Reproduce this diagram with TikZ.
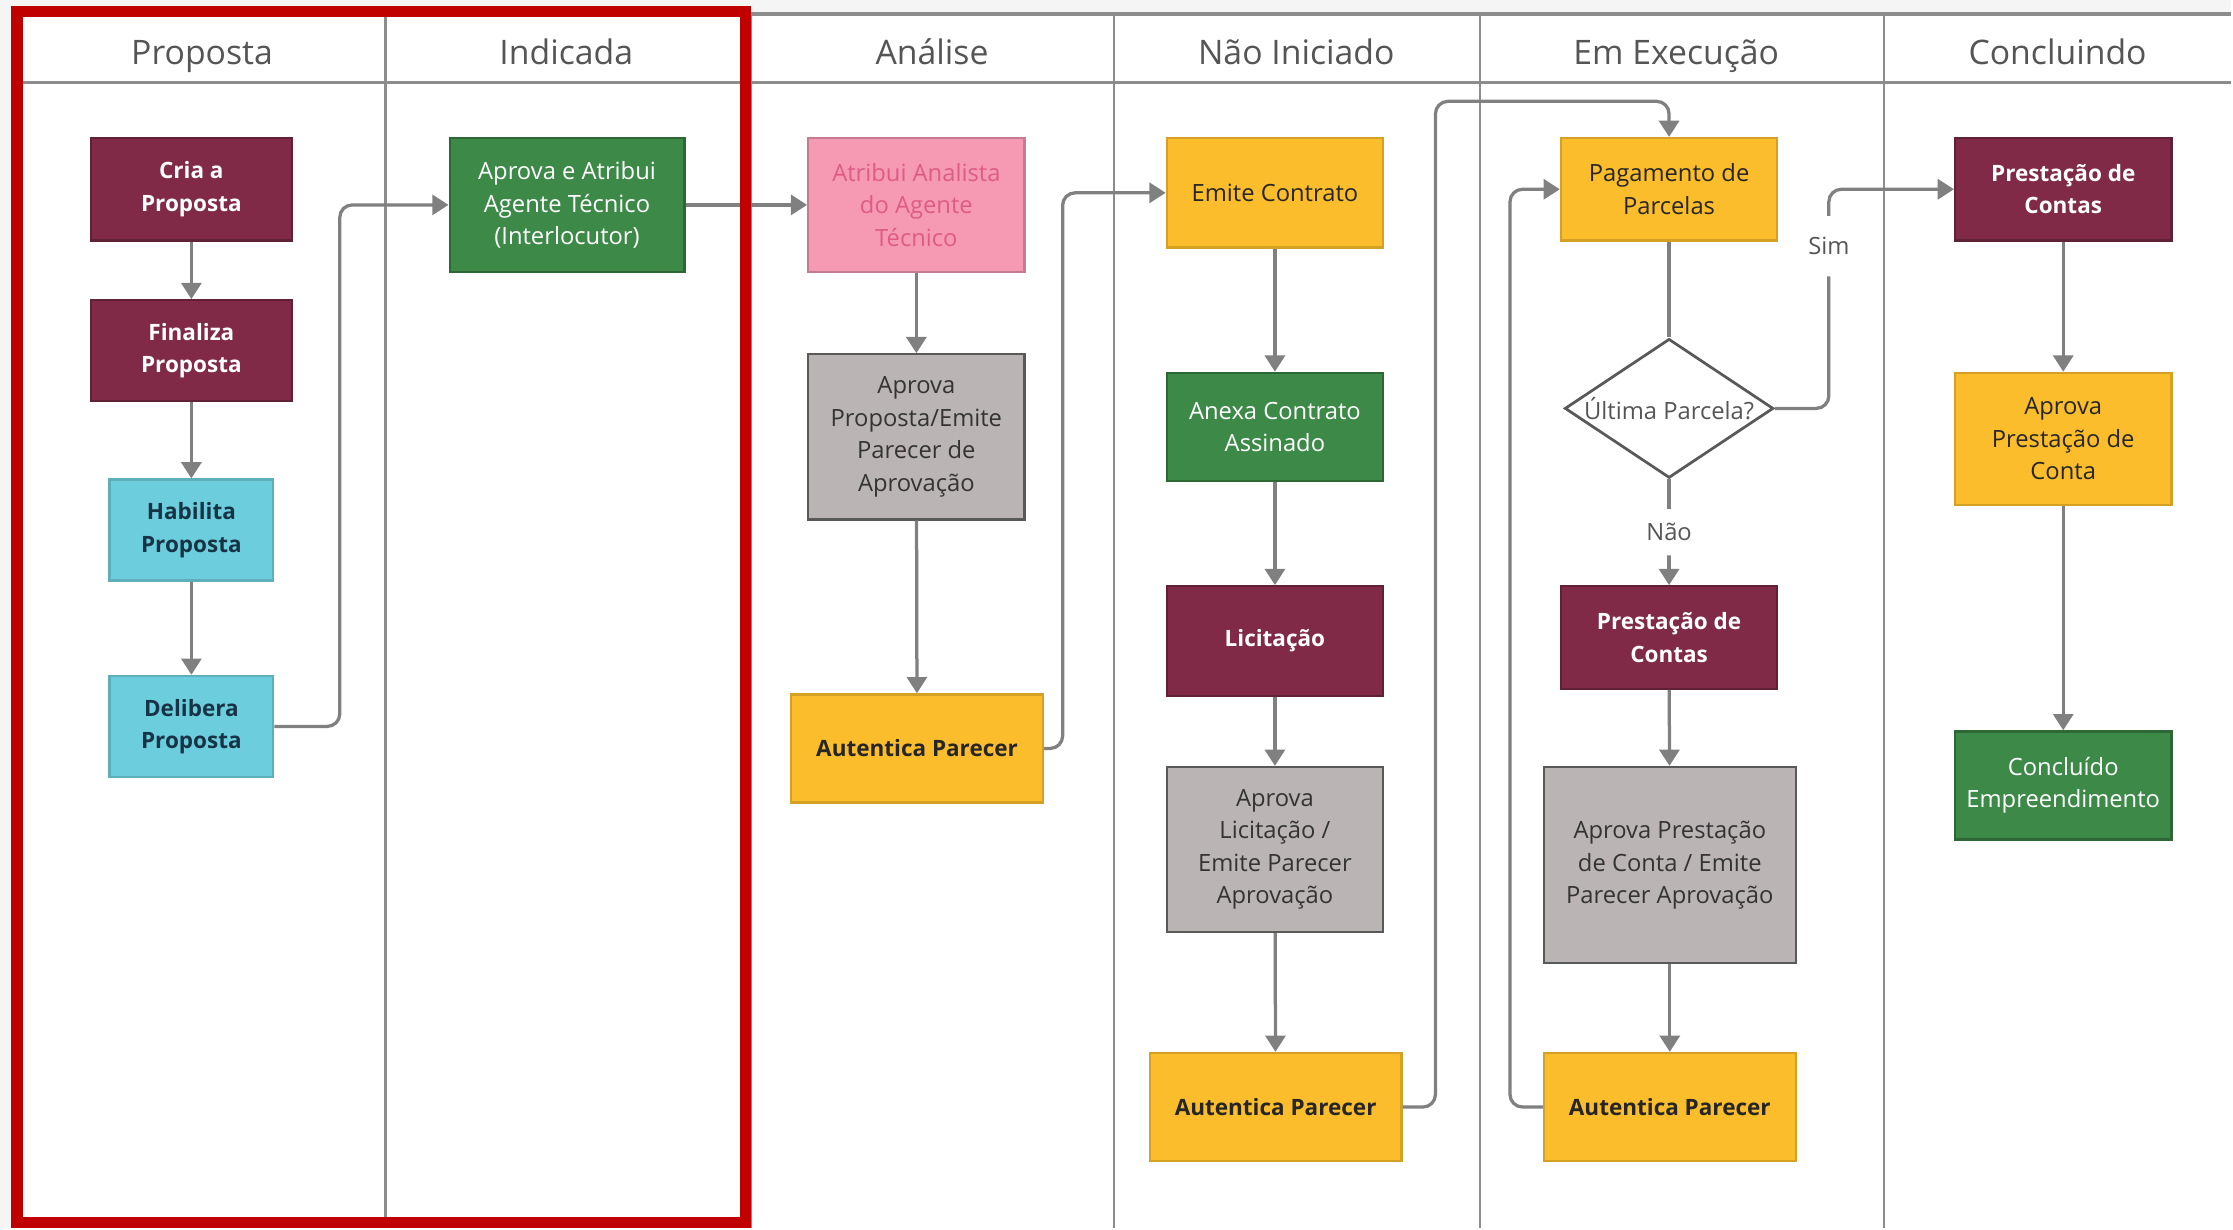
\documentclass[tikz,border=0pt]{standalone}
\usepackage{fontspec}
\setmainfont{Open Sans}
\usetikzlibrary{shapes.geometric, arrows.meta, positioning}
\definecolor{lanegray}{RGB}{140,140,140}
\definecolor{flowgray}{RGB}{128,128,128}
\definecolor{hdrgray}{RGB}{85,85,85}
\definecolor{framered}{RGB}{192,0,0}
\definecolor{stmaroon}{RGB}{128,42,72}
\definecolor{stcyan}{RGB}{108,206,220}
\definecolor{stnavy}{RGB}{22,52,70}
\definecolor{stgreen}{RGB}{61,138,72}
\definecolor{stpink}{RGB}{246,154,180}
\definecolor{stpinktext}{RGB}{222,92,132}
\definecolor{sttaupe}{RGB}{187,180,180}
\definecolor{styellow}{RGB}{251,189,43}

\begin{document}
\begin{tikzpicture}[
  box/.style={draw, line width=0.9pt, minimum width=3.04cm, minimum height=1.52cm, align=center, inner sep=2pt, font=\fontsize{9.5}{13}\selectfont},
  mbox/.style={box, fill=stmaroon, draw=stmaroon!75!black, text=white, font=\fontsize{9}{13}\selectfont\bfseries},
  cbox/.style={box, fill=stcyan, draw=stcyan!85!black, text=stnavy, font=\fontsize{9}{13}\selectfont\bfseries},
  gbox/.style={box, fill=stgreen, draw=stgreen!75!black, text=white},
  pbox/.style={box, fill=stpink, draw=stpink!80!black, text=stpinktext},
  tbox/.style={box, fill=sttaupe, draw=black!65, text=black!80},
  ybox/.style={box, fill=styellow, draw=styellow!85!black, text=black!85},
  ybold/.style={ybox, font=\fontsize{9}{13}\selectfont\bfseries},
  dec/.style={diamond, draw=black!65, line width=1.1pt, fill=white, aspect=1.5, inner xsep=1pt, inner ysep=0pt, text=hdrgray, font=\fontsize{9.5}{13}\selectfont},
  hdr/.style={text=hdrgray, text height=10pt, text depth=3pt, font=\fontsize{13.5}{16}\selectfont},
  lbl/.style={fill=white, text=hdrgray, inner xsep=1pt, inner ysep=0.3cm, font=\fontsize{9.5}{13}\selectfont},
  lane/.style={draw=lanegray, line width=0.9pt},
  link/.style={draw=flowgray, line width=1.3pt, rounded corners=5pt},
  flow/.style={link, -{Triangle[width=8pt,length=6.5pt]}}
]
  % background and swimlanes
  \fill[black!4] (0,0) rectangle (31.36,-17.26);
  \fill[white] (0.24,-0.2) rectangle (31.36,-17.26);
  \draw[lane, line width=1.5pt] (0.24,-0.2) -- (31.36,-0.2);
  \draw[lane, line width=1.5pt] (0.24,-1.16) -- (31.36,-1.16);
  \foreach \x in {5.42,10.56,15.66,20.80,26.48}
    \draw[lane] (\x,-0.2) -- (\x,-17.26);
  \foreach \x/\t [count=\i] in {2.84/Proposta, 7.96/Indicada, 13.10/Análise, 18.22/Não Iniciado, 23.56/Em Execução, 28.92/Concluindo}
    \node[hdr] (hdr\i) at (\x,-0.78) {\t};

  % Proposta
  \node[mbox, minimum width=2.82cm, minimum height=1.44cm] (cria) at (2.69,-2.66) {Cria a\\Proposta};
  \node[mbox, minimum width=2.82cm, minimum height=1.42cm] (finaliza) at (2.69,-4.93) {Finaliza\\Proposta};
  \node[cbox, minimum width=2.30cm, minimum height=1.42cm] (habilita) at (2.69,-7.45) {Habilita\\Proposta};
  \node[cbox, minimum width=2.30cm, minimum height=1.42cm] (delibera) at (2.69,-10.21) {Delibera\\Proposta};

  % Indicada
  \node[gbox, minimum width=3.30cm, minimum height=1.88cm] (atribuiAgente) at (7.97,-2.88) {Aprova e Atribui\\Agente Técnico\\(Interlocutor)};

  % Analise
  \node[pbox, minimum height=1.88cm] (atribuiAnalista) at (12.88,-2.88) {Atribui Analista\\do Agente\\Técnico};
  \node[tbox, minimum height=2.32cm] (aprovaProposta) at (12.88,-6.14) {Aprova\\Proposta/Emite\\Parecer de\\Aprovação};
  \node[ybold, minimum width=3.54cm] (autenticaA) at (12.89,-10.52) {Autentica Parecer};

  % Nao Iniciado
  \node[ybox, minimum height=1.54cm] (emite) at (17.92,-2.71) {Emite Contrato};
  \node[gbox] (anexa) at (17.92,-6.00) {Anexa Contrato\\Assinado};
  \node[mbox, minimum height=1.54cm] (licitacao) at (17.92,-9.01) {Licitação};
  \node[tbox, minimum height=2.32cm] (aprovaLicitacao) at (17.92,-11.94) {Aprova\\Licitação /\\Emite Parecer\\Aprovação};
  \node[ybold, minimum width=3.54cm] (autenticaB) at (17.93,-15.56) {Autentica Parecer};

  % Em Execucao
  \node[ybox, minimum height=1.44cm] (pagamento) at (23.46,-2.66) {Pagamento de\\Parcelas};
  \node[dec] (ultima) at (23.46,-5.74) {Última Parcela?};
  \node[mbox, minimum height=1.44cm] (prestacaoExec) at (23.46,-8.96) {Prestação de\\Contas};
  \node[tbox, minimum width=3.54cm, minimum height=2.76cm] (aprovaPrestacao) at (23.47,-12.16) {Aprova Prestação\\de Conta / Emite\\Parecer Aprovação};
  \node[ybold, minimum width=3.54cm] (autenticaC) at (23.47,-15.56) {Autentica Parecer};

  % Concluindo
  \node[mbox, minimum height=1.44cm] (prestacaoConc) at (29.00,-2.66) {Prestação de\\Contas};
  \node[ybox, minimum height=1.86cm] (aprovaConta) at (29.00,-6.17) {Aprova\\Prestação de\\Conta};
  \node[gbox] (concluido) at (29.00,-11.04) {Concluído\\Empreendimento};

  % connectors
  \draw[flow] (cria) -- (finaliza);
  \draw[flow] (finaliza) -- (habilita);
  \draw[flow] (habilita) -- (delibera);
  \draw[flow] (delibera.east) -- ++(0.92,0) |- (atribuiAgente.west);
  \draw[flow] (atribuiAgente) -- (atribuiAnalista);
  \draw[flow] (atribuiAnalista) -- (aprovaProposta);
  \draw[flow] (aprovaProposta) -- (autenticaA);
  \draw[flow] (autenticaA.east) -- ++(0.26,0) |- (emite.west);
  \draw[flow] (emite) -- (anexa);
  \draw[flow] (anexa) -- (licitacao);
  \draw[flow] (licitacao) -- (aprovaLicitacao);
  \draw[flow] (aprovaLicitacao) -- (autenticaB);
  \draw[flow] (autenticaB.east) -- ++(0.46,0) |- ([yshift=0.5cm]pagamento.north) -- (pagamento.north);
  \draw[link] (pagamento) -- (ultima);
  \draw[flow] (ultima.east) -- ++(0.76,0) |- node[lbl, pos=0.37] (sim) {Sim} (prestacaoConc.west);
  \draw[flow] (ultima.south) -- node[lbl, inner ysep=0.2cm] (nao) {Não} (prestacaoExec.north);
  \draw[flow] (prestacaoExec) -- (aprovaPrestacao);
  \draw[flow] (aprovaPrestacao) -- (autenticaC);
  \draw[flow] (autenticaC.west) -- ++(-0.46,0) |- (pagamento.west);
  \draw[flow] (prestacaoConc) -- (aprovaConta);
  \draw[flow] (aprovaConta) -- (concluido);

  % highlight frame
  \draw[framered, line width=4.6pt] (0.24,-0.16) rectangle (10.48,-17.18);
\end{tikzpicture}
\end{document}
